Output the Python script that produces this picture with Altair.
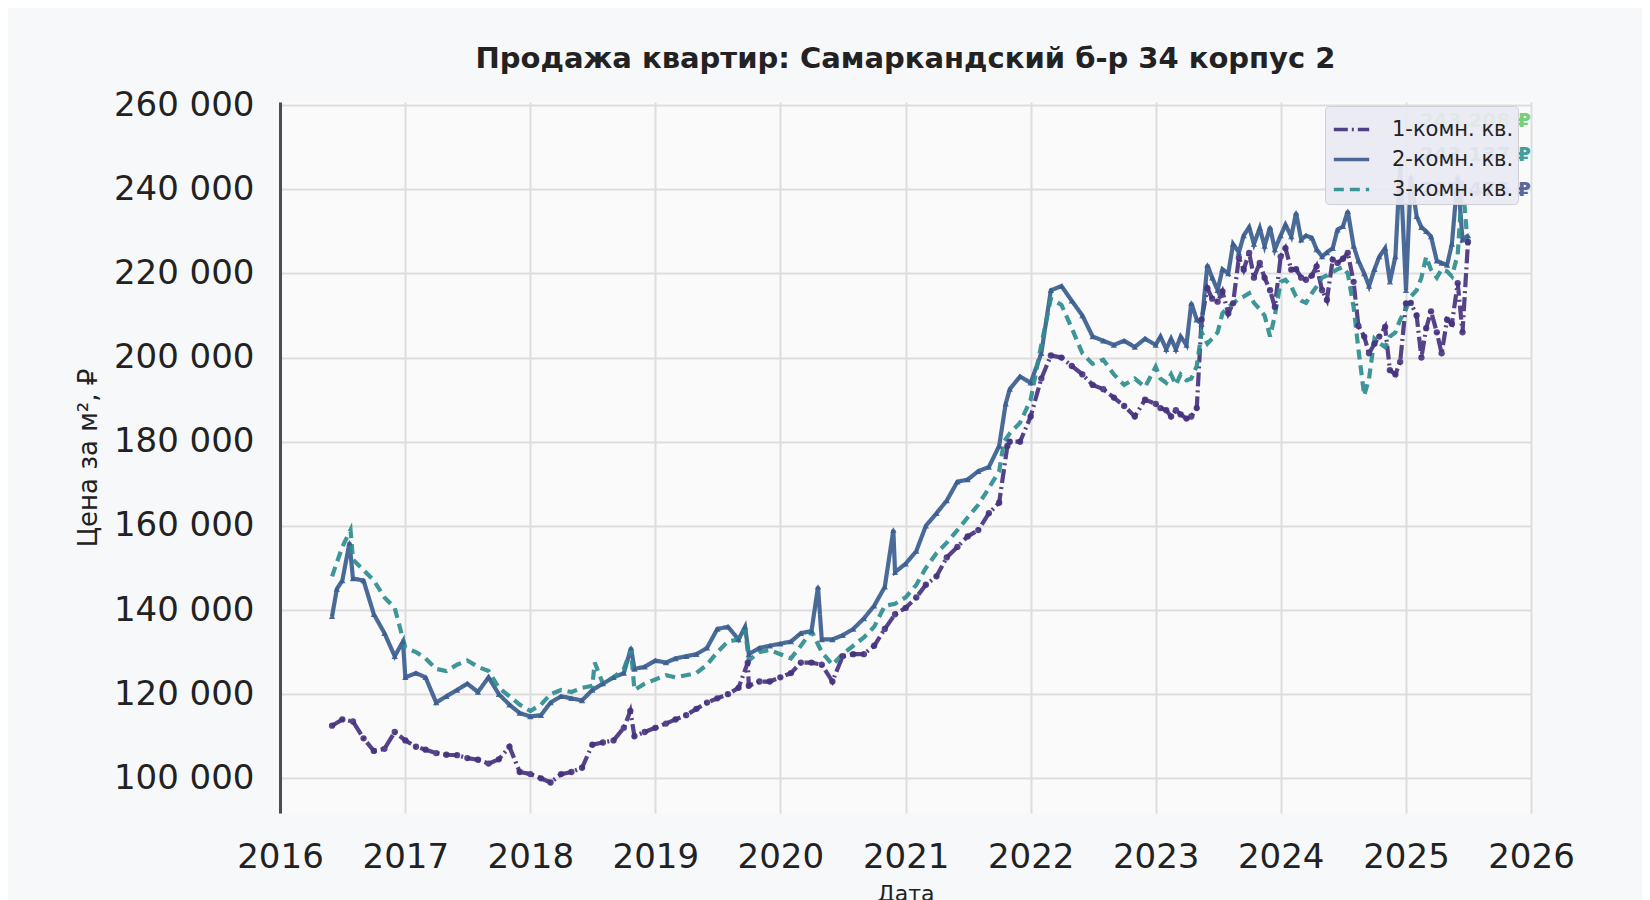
import altair as alt
import pandas as pd

TYPES = ["1-комн. кв.", "2-комн. кв.", "3-комн. кв."]
COLORS = ["#46327e", "#3b5d8f", "#2f8d8f"]
DASHES = [[14, 4, 2, 4], [1, 0], [10, 6]]

# monthly readings 2016-06 .. 2022-12, then twice a month 2023-01 .. 2025-07 (thousand RUB per m2)
months = pd.date_range("2016-06-01", "2022-12-01", freq="MS")
halves = pd.date_range("2023-01-01", "2025-07-01", freq="SMS")

one_m = [112.5, 114, 113.5, 109.5, 106.5, 107, 111,
         109, 107.5, 106.8, 106, 105.6, 105.5, 104.8, 104.4, 103.5, 104.5, 107.5, 101.5,
         101, 100, 99, 101, 101.5, 102.5, 108, 108.5, 109, 112, 110, 111,
         112, 113, 114, 115, 116.5, 118, 119, 120, 121.5, 122, 123, 123,
         124, 125, 127.5, 127.5, 127, 123, 129, 129.5, 129.5, 131.5, 135.5, 139,
         140.5, 143, 146, 148, 152.5, 155, 157.5, 159, 163, 165.5, 180, 180,
         186, 195, 200.5, 200, 198, 196, 193.5, 192.5, 190.5, 188.5, 186, 190]
one_h = [189, 188, 187.5, 186, 187.5, 186.5, 185.5, 186, 188,
         209, 216.5, 214, 213.3, 215.7, 210.5, 212.9, 223.7, 220.9, 224.9, 219, 222.5,
         219, 216, 212, 224, 226, 220.9, 221, 219, 218.5, 219.5, 221.7, 216,
         213.7, 223.3, 222.5, 223.5, 224.9, 218, 207.5, 205, 201, 203.3, 205, 207.3,
         197, 196, 199, 212.9, 213, 210, 200, 207, 211, 206, 201, 209,
         208, 217.7, 206, 227.5]
one_x = [("2018-10-20", 116), ("2019-09-28", 127.5), ("2021-10-25", 179)]

two_m = [138.5, 147, 147.5, 147, 139, 134.5, 129,
         124, 125, 124, 118, 119.5, 121, 122.5, 120.5, 124, 120, 117.5, 115.5,
         114.7, 115, 118, 119.5, 119, 118.5, 121, 122.5, 124, 125, 126, 126.5,
         128, 127.5, 128.5, 129, 129.5, 131, 135.5, 136, 133, 129.5, 131, 131.5,
         132, 132.5, 134.5, 135, 133, 133, 134, 135.5, 138, 141, 145.5, 149,
         151, 154, 160, 163, 166, 170.5, 171, 173, 174, 179, 192.5, 195.5,
         194, 201, 216, 217, 213.5, 210, 205, 204, 203, 204, 202.5, 204.5]
two_h = [203, 205, 202, 204.5, 202, 205, 203, 213, 209,
         208, 222, 219, 216, 221, 220, 227, 225, 229, 231, 227, 230.8,
         226.5, 231, 225.7, 229, 231.6, 228.8, 234.4, 228, 229, 228.5, 225.7, 224,
         225, 226, 230.4, 231.2, 234.8, 226.5, 223, 220, 217, 221, 224, 226,
         218, 224, 246, 216, 243, 233.6, 231, 230, 228.8, 223, 222.5, 222,
         227, 243, 228, 229]
two_x = [("2016-06-15", 145), ("2016-07-22", 156), ("2016-12-25", 132.5),
         ("2018-10-22", 131), ("2019-09-20", 136), ("2020-04-20", 145.5),
         ("2020-11-26", 159), ("2021-10-20", 189)]

three_m = [148, 155, 152, 149.5, 147, 143, 140.5,
           131, 130, 128.5, 126, 125.5, 127, 128, 126.5, 125.5, 121.5, 119.5, 117.5,
           116, 117.5, 120, 121, 120.5, 121.5, 122, 122.5, 124, 126, 121, 122.5,
           123.5, 124.5, 124, 124.5, 125, 127, 130, 132.5, 133, 128, 130, 130.5,
           129.5, 128.5, 131.5, 135, 130, 127, 129.5, 131.5, 133.5, 136, 141, 141.5,
           143, 146, 150, 153.5, 156, 159, 162, 165, 169, 173, 182, 184.5,
           190, 203, 214, 212.5, 207, 201, 198.5, 199.5, 196, 193.5, 195, 193]
three_h = [197.8, 195, 194, 196, 193.5, 196, 194.6, 195, 198,
           206, 203.3, 204.5, 206, 210.5, 212, 212.9, 214, 214.5, 215.3, 213, 211.5,
           210, 205, 210, 218, 218.5, 216.9, 214.5, 213.5, 213, 215.3, 216.9, 219,
           219.5, 220.3, 221, 221.5, 220, 212, 202, 191, 195, 204.5, 203.5, 202.5,
           205, 206, 209, 211.5, 214.5, 216, 219, 224, 220.9, 219, 221, 220.5,
           219.3, 224.5, 242, 226]
three_x = [("2016-07-25", 159), ("2018-07-08", 127.5), ("2018-10-22", 130.5),
           ("2019-09-20", 135.5), ("2021-10-15", 180)]

# labels hidden behind the legend in the corner
corner_text = ["243 208 ₽", "243 137 ₽", "227 475 ₽"]
corner_y = [256250, 248250, 239750]
corner_col = ["#5ec962", "#21918c", "#3b528b"]

frames = []
for name, m, h, extra in [(TYPES[0], one_m, one_h, one_x),
                          (TYPES[1], two_m, two_h, two_x),
                          (TYPES[2], three_m, three_h, three_x)]:
    d = list(months) + list(halves) + [pd.Timestamp(e[0]) for e in extra]
    v = m + h + [e[1] for e in extra]
    frames.append(pd.DataFrame({"date": d, "price": [x * 1000 for x in v], "type": name}))
df = pd.concat(frames).sort_values(["type", "date"]).reset_index(drop=True)

labels = pd.DataFrame({
    "date": [pd.Timestamp("2026-01-01")] * 3,
    "price": corner_y,
    "label": corner_text,
    "col": corner_col,
})

FONT = "DejaVu Sans"

x_enc = alt.X("date:T",
              scale=alt.Scale(domain=[alt.DateTime(year=2016, month=1, date=1),
                                      alt.DateTime(year=2026, month=1, date=1)]),
              axis=alt.Axis(title="Дата", format="%Y",
                            values=[alt.DateTime(year=y, month=1, date=1) for y in range(2016, 2027)],
                            labelFlush=False, labelOverlap=False, labelBound=False,
                            labelFontSize=34, labelPadding=27, titleFontSize=22,
                            titlePadding=9, domain=False, ticks=False))
y_enc = alt.Y("price:Q",
              scale=alt.Scale(domain=[91750, 260750], nice=False, zero=False),
              axis=alt.Axis(title="Цена за м², ₽",
                            values=list(range(100000, 260001, 20000)),
                            labelExpr="replace(format(datum.value, ','), regexp(',', 'g'), ' ')",
                            labelFontSize=34, labelPadding=26, labelOverlap=False,
                            titleFontSize=26, titlePadding=12,
                            domain=True, domainColor="#4d4d4d", domainWidth=3, ticks=False))

legend_opts = dict(title=None, orient="none", legendX=1045, legendY=4,
                   fillColor="rgba(234,234,242,0.93)", strokeColor="#cfcfd8",
                   cornerRadius=4, padding=4, labelFontSize=21, labelFont=FONT,
                   labelColor="#222222", symbolType="stroke", symbolStrokeWidth=3.5,
                   symbolSize=1250, symbolOffset=3, rowPadding=0, labelOffset=21)

lines = alt.Chart(df).mark_line(strokeWidth=4.2, opacity=0.92).encode(
    x=x_enc,
    y=y_enc,
    color=alt.Color("type:N", scale=alt.Scale(domain=TYPES, range=COLORS),
                    legend=alt.Legend(**legend_opts)),
    strokeDash=alt.StrokeDash("type:N", scale=alt.Scale(domain=TYPES, range=DASHES),
                              legend=alt.Legend(**legend_opts)),
)

points = alt.Chart(df).transform_filter(
    alt.datum.type != TYPES[2]
).mark_point(filled=True, size=40, opacity=0.9).encode(
    x="date:T",
    y="price:Q",
    color=alt.Color("type:N", scale=alt.Scale(domain=TYPES, range=COLORS), legend=None),
    shape=alt.Shape("type:N", scale=alt.Scale(domain=TYPES[:2], range=["circle", "triangle-up"]),
                    legend=None),
)

corner = alt.Chart(labels).mark_text(
    align="right", baseline="middle", fontSize=20, fontWeight="bold", font=FONT, opacity=0.85
).encode(
    x="date:T",
    y="price:Q",
    text="label:N",
    color=alt.Color("col:N", scale=None),
)

chart = alt.layer(lines, points, corner).properties(
    width=1251,
    height=711,
    autosize=alt.AutoSizeParams(type="none"),
    padding={"left": 272, "top": 94, "right": 111, "bottom": 87},
    background="#f7f8fa",
    title=alt.TitleParams("Продажа квартир: Самаркандский б-р 34 корпус 2",
                          fontSize=29, fontWeight="bold", font=FONT, color="#222222",
                          anchor="middle", frame="group", offset=14),
).configure_view(
    stroke=None, fill="#fafafa"
).configure_axis(
    labelFont=FONT, titleFont=FONT, labelColor="#222222", titleColor="#222222",
    titleFontWeight="normal", gridColor="#dddddd", gridWidth=2
)

chart.save("out.html", embed_options={"renderer": "svg", "actions": False})
